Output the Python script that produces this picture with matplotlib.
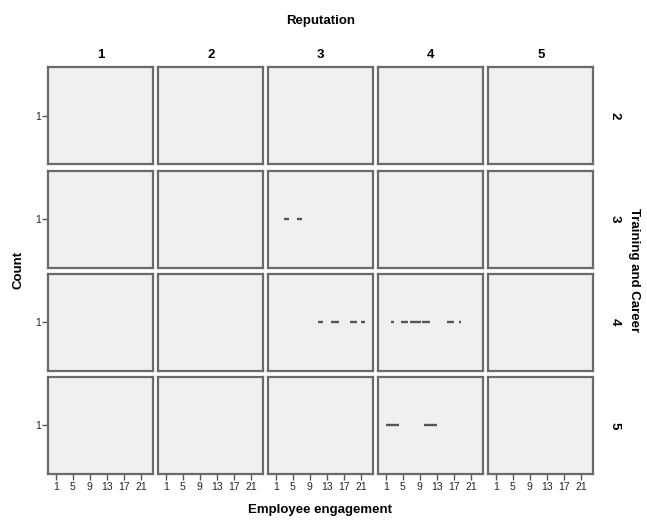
import matplotlib
matplotlib.use("Agg")
import matplotlib.pyplot as plt

plt.rcParams['font.family'] = ['Liberation Sans', 'DejaVu Sans']

reputation_levels = [1, 2, 3, 4, 5]
training_levels = [2, 3, 4, 5]
x_ticks = [1, 5, 9, 13, 17, 21]
y_ticks = [1]

# each dash: panel (training, reputation), engagement span, count
seg_training   = [3, 3, 4, 4, 4, 4, 4, 4, 4, 4, 4, 4, 5, 5]
seg_reputation = [3, 3, 3, 3, 3, 3, 4, 4, 4, 4, 4, 4, 4, 4]
seg_start      = [3.0, 6.0, 11.0, 13.9, 18.3, 21.0, 2.2, 4.7, 6.8, 9.6, 15.4, 18.2, 1.1, 10.0]
seg_end        = [4.1, 7.1, 12.0, 15.8, 20.1, 21.9, 3.0, 6.2, 9.2, 11.3, 17.0, 18.7, 4.1, 13.1]
seg_count      = [1, 1, 1, 1, 1, 1, 1, 1, 1, 1, 1, 1, 1, 1]

W, H = 647, 521
fig = plt.figure(figsize=(W / 100, H / 100), dpi=100)
fig.patch.set_facecolor('white')

left0, col_step, pw = 48.3, 110.0, 105.0
top0, row_step, ph = 67.3, 103.2, 97.0

axes = {}
for i, t in enumerate(training_levels):
    for j, r in enumerate(reputation_levels):
        x0 = left0 + j * col_step
        y0 = top0 + i * row_step
        ax = fig.add_axes([x0 / W, 1 - (y0 + ph) / H, pw / W, ph / H])
        ax.set_facecolor('#f0f0f0')
        ax.set_xlim(-0.73, 23.86)
        ax.set_ylim(0, 2)
        for s in ax.spines.values():
            s.set_color('#6a6a6a')
            s.set_linewidth(1.6)
        ax.set_xticks(x_ticks)
        ax.set_yticks(y_ticks)
        ax.tick_params(axis='both', length=4, width=1, color='#555555',
                       labelsize=7.5, labelcolor='#222222', pad=1.5)
        if i != len(training_levels) - 1:
            ax.tick_params(axis='x', bottom=False, labelbottom=False)
        if j != 0:
            ax.tick_params(axis='y', left=False, labelleft=False)
        if i == 0:
            ax.set_title(str(r), fontsize=9.5, fontweight='bold', pad=7)
        if j == len(reputation_levels) - 1:
            ax.text(1.2, 0.5, str(t), transform=ax.transAxes, rotation=-90,
                    ha='center', va='center', fontsize=9.5, fontweight='bold')
        axes[(t, r)] = ax

for t, r, a, b, c in zip(seg_training, seg_reputation, seg_start, seg_end, seg_count):
    axes[(t, r)].hlines(c, a, b, color='#555555', linewidth=1.7)

fig.text(320.5 / W, 1 - 21 / H, 'Reputation', ha='center', va='center',
         fontsize=9.5, fontweight='bold')
fig.text(320.5 / W, 1 - 510 / H, 'Employee engagement', ha='center', va='center',
         fontsize=9.5, fontweight='bold')
fig.text(18 / W, 1 - 270 / H, 'Count', ha='center', va='center', rotation=90,
         fontsize=9.5, fontweight='bold')
fig.text(634 / W, 1 - 270 / H, 'Training and Career', ha='center', va='center',
         rotation=-90, fontsize=9.5, fontweight='bold')

fig.savefig('out.png', dpi=100, facecolor='white')
